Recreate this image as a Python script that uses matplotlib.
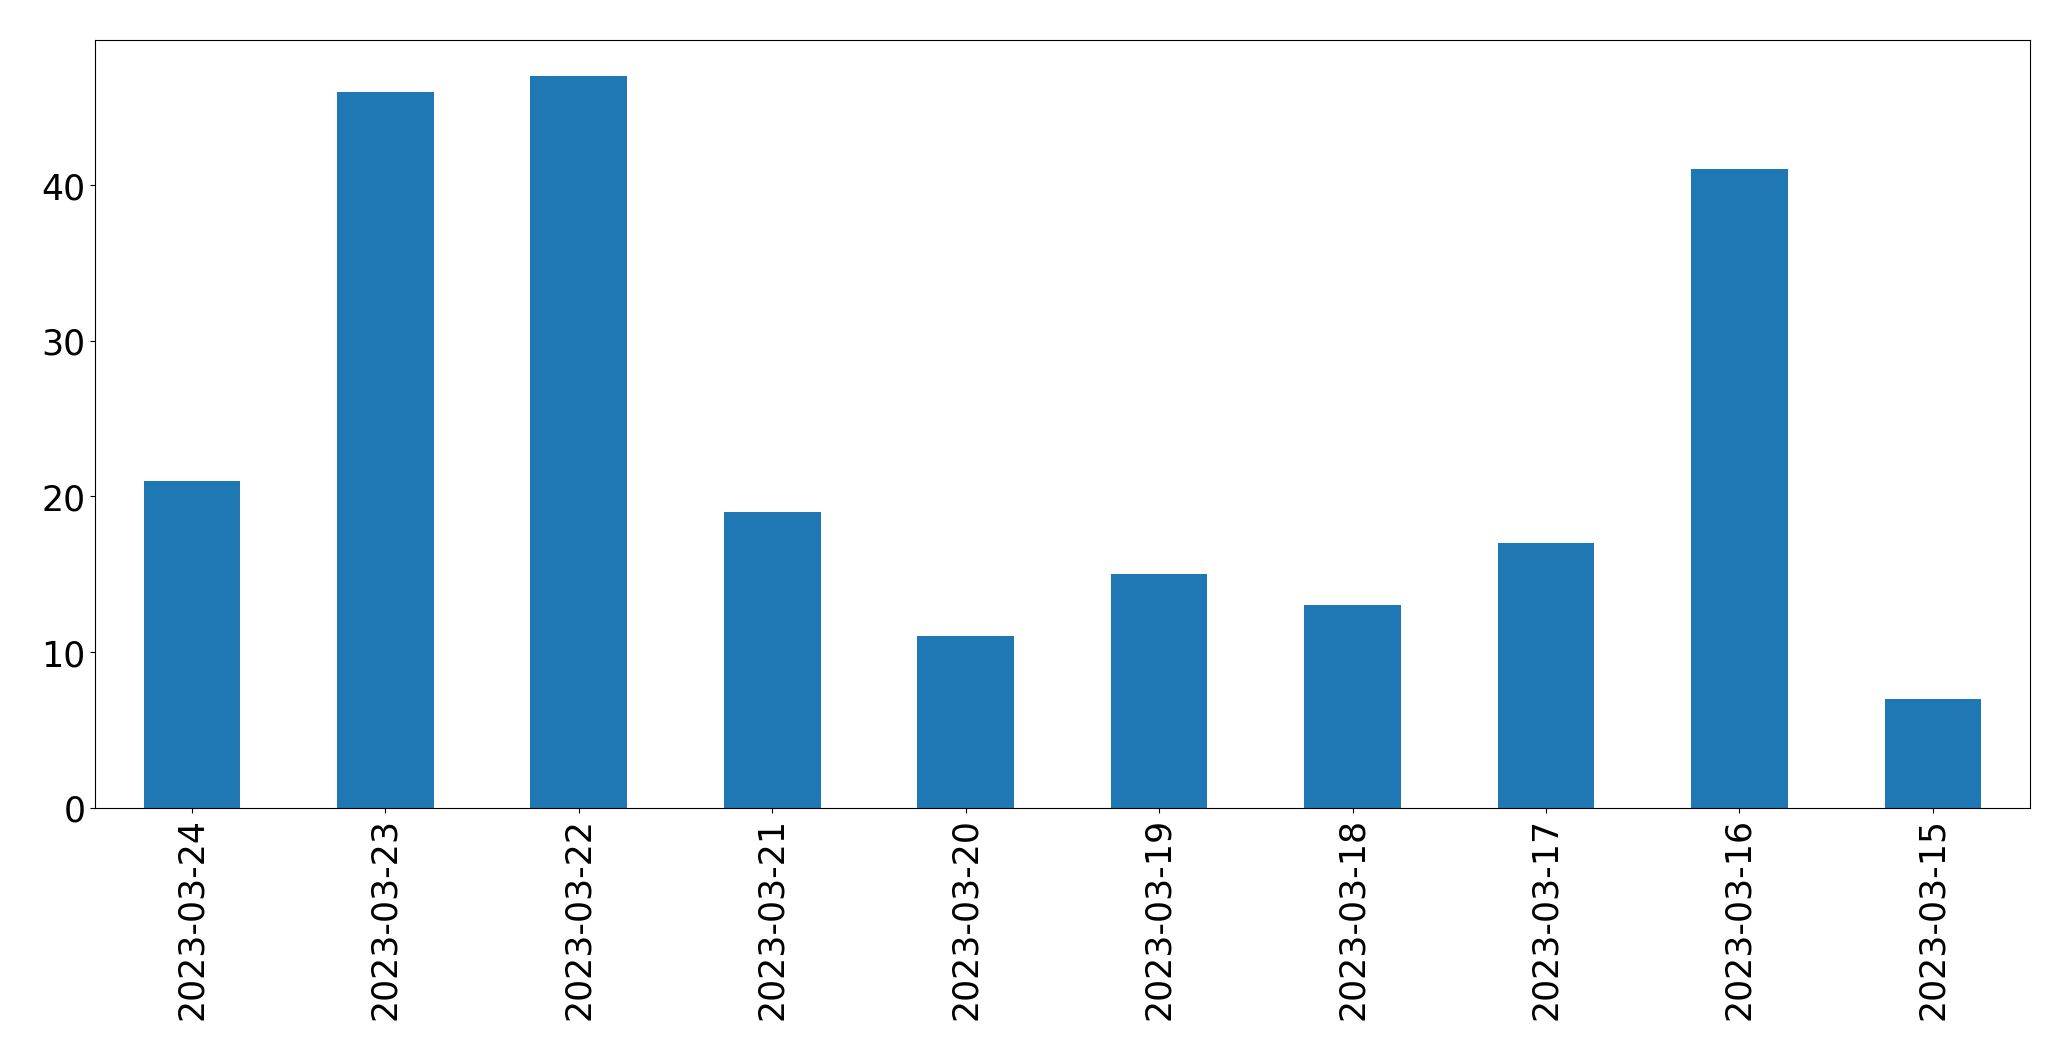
import pandas as pd
import matplotlib.pyplot as plt

dates = ['2023-03-24', '2023-03-23', '2023-03-22', '2023-03-21', '2023-03-20',
         '2023-03-19', '2023-03-18', '2023-03-17', '2023-03-16', '2023-03-15']
counts = [21, 46, 47, 19, 11, 15, 13, 17, 41, 7]

series = pd.Series(counts, index=dates)

fig, ax = plt.subplots(1, figsize=(20.71, 10.608), dpi=100)
series.plot.bar(ax=ax, color='#1f77b4')
ax.tick_params(axis='both', labelsize=25)
fig.subplots_adjust(left=0.046, right=0.980, top=0.962, bottom=0.238)
fig.savefig('out.png', dpi=100)
plt.close()
